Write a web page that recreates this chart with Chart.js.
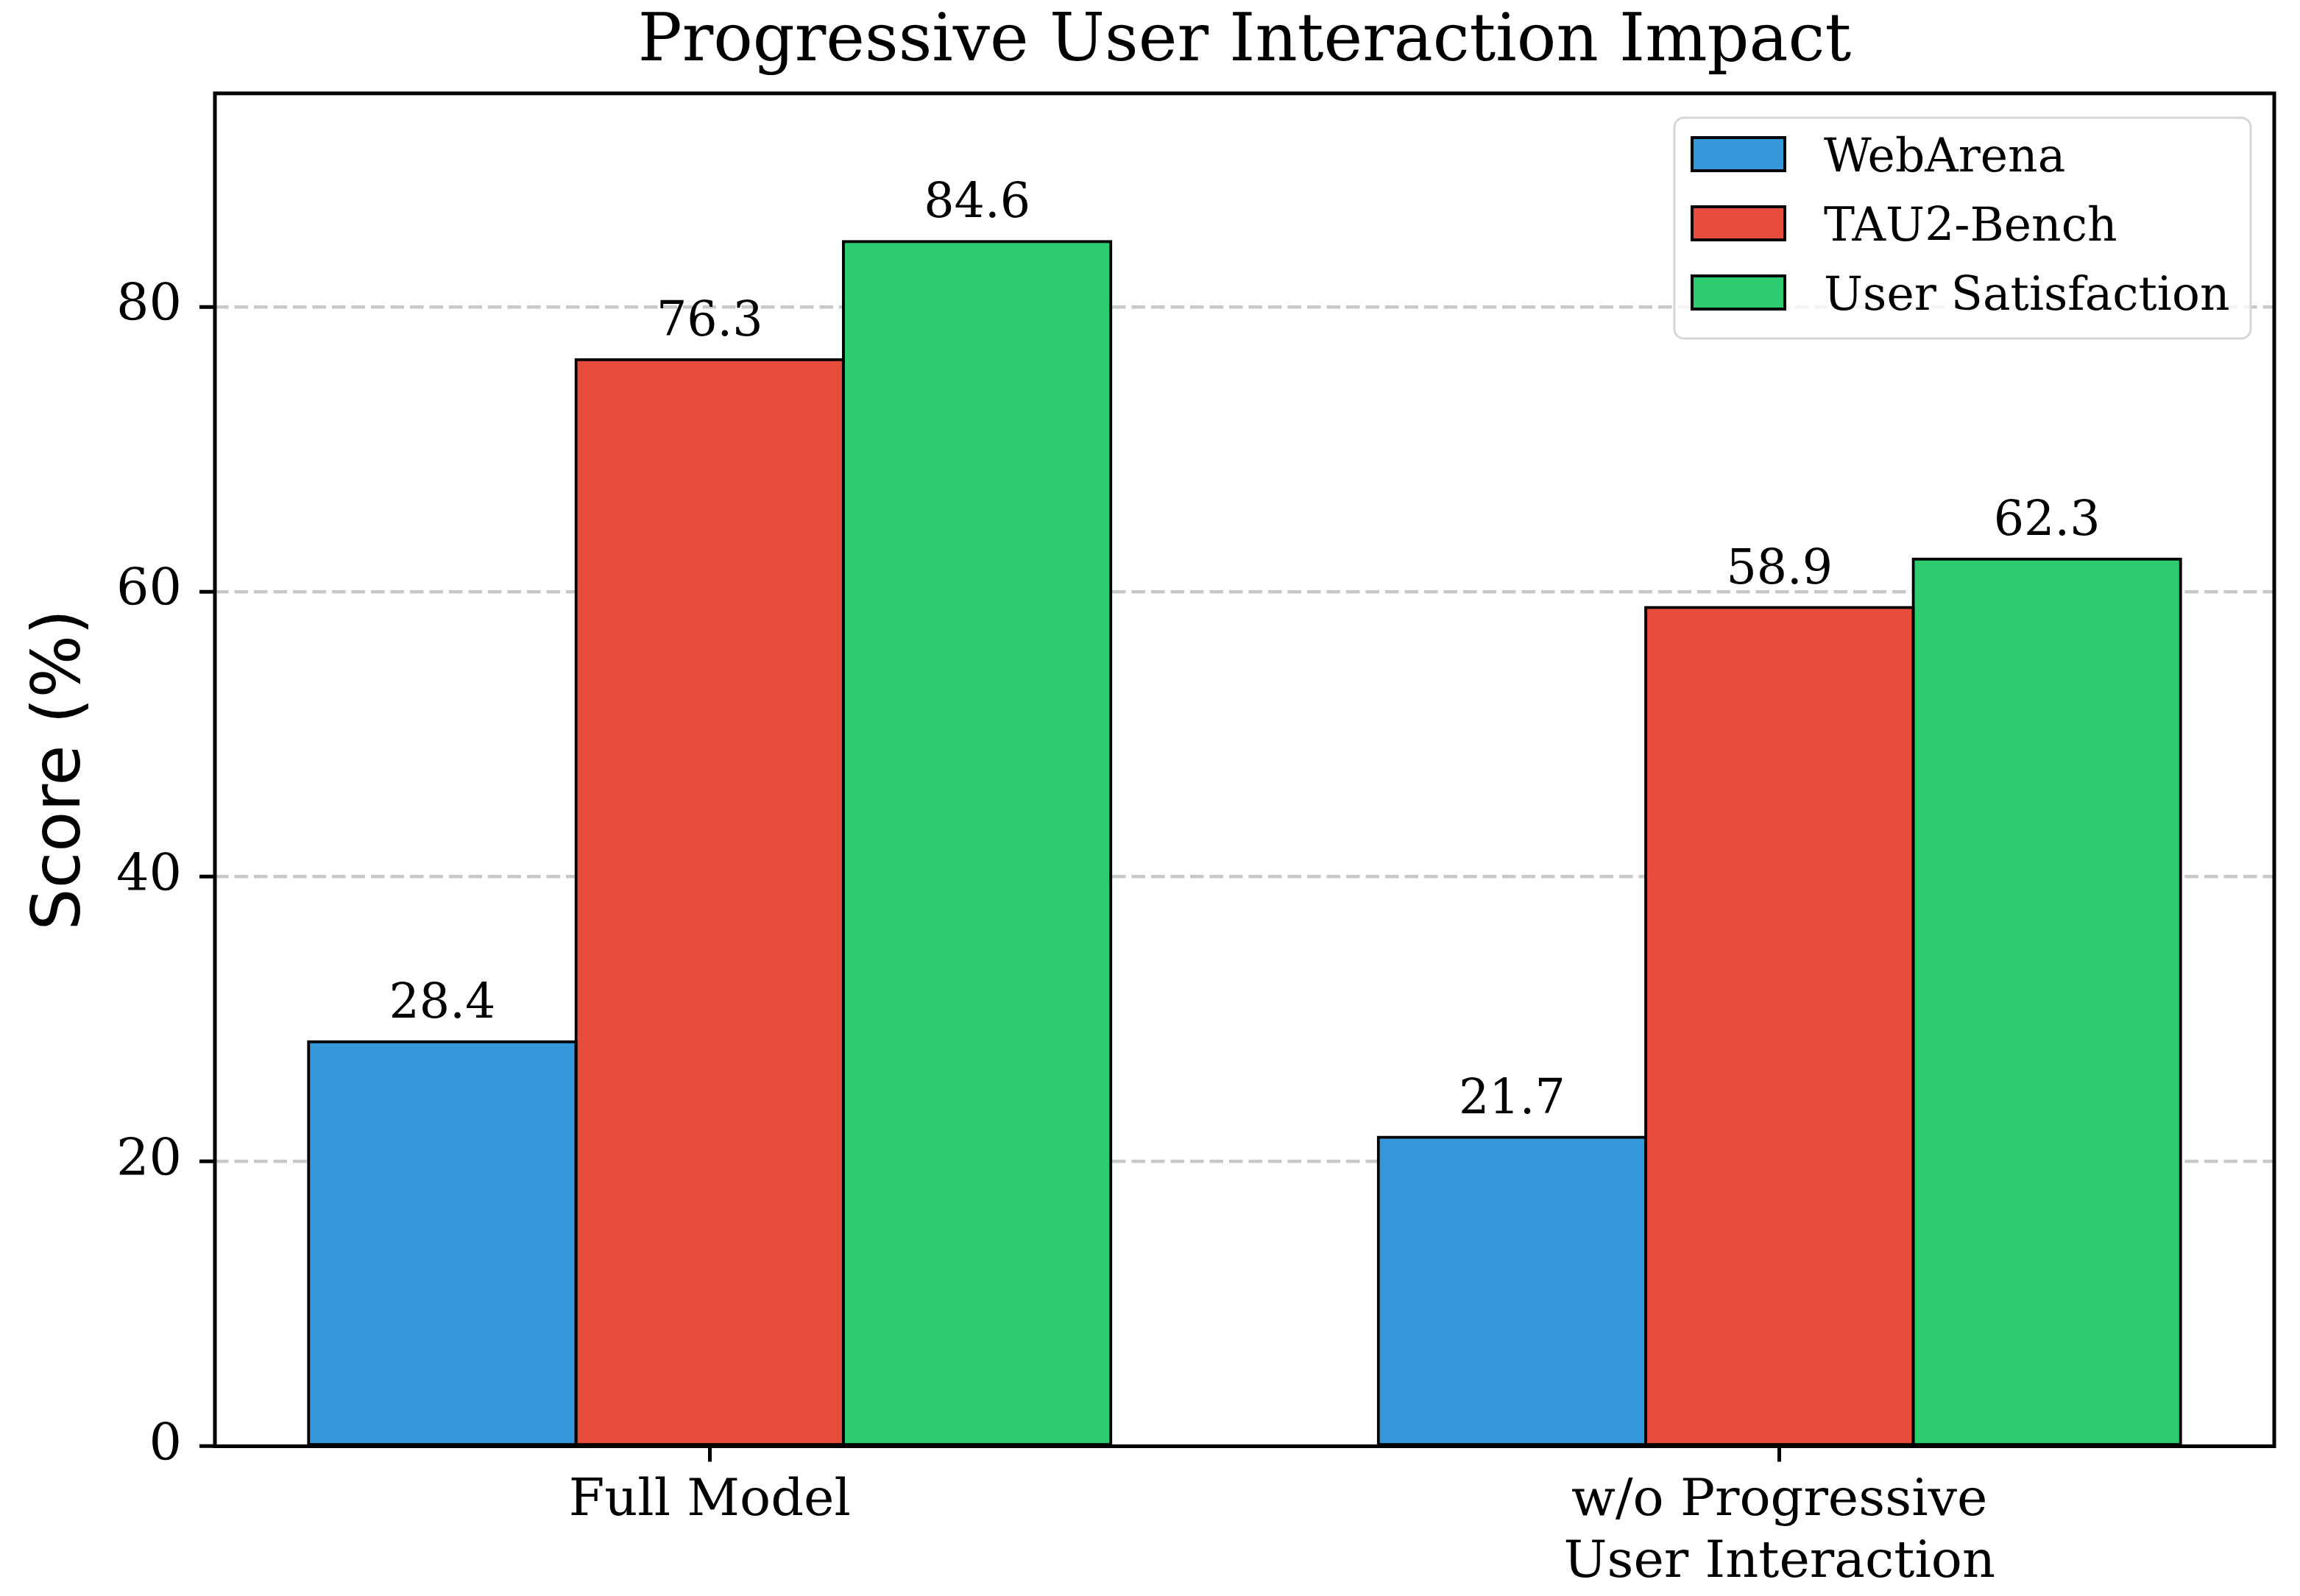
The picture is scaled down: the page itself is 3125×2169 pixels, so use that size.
<!DOCTYPE html>
<html>
<head>
<meta charset="utf-8">
<script src="https://cdn.jsdelivr.net/npm/chart.js@4.4.1/dist/chart.umd.min.js"></script>
<style>
  html, body { margin: 0; padding: 0; background: #fff; }
  #wrap { width: 3125px; height: 2169px; }
</style>
</head>
<body>
<div id="wrap"><canvas id="chart"></canvas></div>
<script>
// data
const categories = ['Full Model', ['w/o Progressive', 'User Interaction']];
const xPositions = [0, 1];
const webArena = [28.4, 21.7];
const tau2Bench = [76.3, 58.9];
const userSatisfaction = [84.6, 62.3];
const yTicks = [0, 20, 40, 60, 80];

const seriesNames = ['WebArena', 'TAU2-Bench', 'User Satisfaction'];
const seriesColors = ['#3498db', '#e74c3c', '#2ecc71'];
const seriesValues = [webArena, tau2Bench, userSatisfaction];

const SERIF = "'DejaVu Serif', serif";
const SANS = "'DejaVu Sans', sans-serif";

const datasets = seriesNames.map((name, i) => ({
    label: name,
    data: xPositions.map((x, j) => ({ x: x, y: seriesValues[i][j] })),
    backgroundColor: seriesColors[i],
    borderColor: '#000',
    borderWidth: 4,
    borderSkipped: false,
    inflateAmount: 2,
    categoryPercentage: 0.75,
    barPercentage: 1.0
}));

// box round the plot, drawn over the bars like matplotlib spines
const framePlugin = {
    id: 'frame',
    afterDatasetsDraw(chart) {
        const { ctx, chartArea: a } = chart;
        ctx.save();
        ctx.strokeStyle = '#000';
        ctx.lineWidth = 5;
        ctx.strokeRect(a.left, a.top, a.right - a.left, a.bottom - a.top);
        ctx.restore();
    }
};

// numbers above the bars
const valueLabels = {
    id: 'valueLabels',
    afterDatasetsDraw(chart) {
        const ctx = chart.ctx;
        ctx.save();
        ctx.font = '65px ' + SERIF;
        ctx.fillStyle = '#000';
        ctx.textAlign = 'center';
        ctx.textBaseline = 'alphabetic';
        chart.data.datasets.forEach((ds, i) => {
            chart.getDatasetMeta(i).data.forEach((bar, j) => {
                ctx.fillText(ds.data[j].y.toFixed(1), bar.x, bar.y - 33);
            });
        });
        ctx.restore();
    }
};

// legend inside the plot, upper right
const innerLegend = {
    id: 'innerLegend',
    afterDraw(chart) {
        const ctx = chart.ctx;
        const box = { left: 2275, top: 160, right: 3058, bottom: 460, r: 13 };
        ctx.save();
        ctx.beginPath();
        ctx.moveTo(box.left + box.r, box.top);
        ctx.arcTo(box.right, box.top, box.right, box.bottom, box.r);
        ctx.arcTo(box.right, box.bottom, box.left, box.bottom, box.r);
        ctx.arcTo(box.left, box.bottom, box.left, box.top, box.r);
        ctx.arcTo(box.left, box.top, box.right, box.top, box.r);
        ctx.closePath();
        ctx.fillStyle = 'rgba(255,255,255,0.8)';
        ctx.fill();
        ctx.lineWidth = 3;
        ctx.strokeStyle = '#d6d6d6';
        ctx.stroke();

        ctx.font = '63px ' + SERIF;
        ctx.textAlign = 'left';
        ctx.textBaseline = 'alphabetic';
        chart.data.datasets.forEach((ds, i) => {
            const cy = 209.5 + i * 94;
            ctx.fillStyle = ds.backgroundColor;
            ctx.fillRect(2299, cy - 22.5, 126, 45);
            ctx.lineWidth = 4;
            ctx.strokeStyle = '#000';
            ctx.strokeRect(2299, cy - 22.5, 126, 45);
            ctx.fillStyle = '#000';
            ctx.fillText(ds.label, 2478, cy + 23);
        });
        ctx.restore();
    }
};

const ctx = document.getElementById('chart').getContext('2d');
new Chart(ctx, {
    type: 'bar',
    data: { datasets: datasets },
    options: {
        responsive: true,
        maintainAspectRatio: false,
        devicePixelRatio: 1,
        animation: false,
        layout: { padding: { left: 0, right: 35, top: 0, bottom: 0 } },
        plugins: {
            legend: { display: false },
            tooltip: { enabled: false },
            title: {
                display: true,
                text: 'Progressive User Interaction Impact',
                fullSize: false,
                color: '#000',
                font: { family: SERIF, size: 89, weight: 'normal', lineHeight: 1.2 },
                padding: { top: 5, bottom: 15.1 }
            }
        },
        scales: {
            x: {
                type: 'linear',
                min: -0.4625,
                max: 1.4625,
                offset: false,
                afterFit(scale) { scale.height = 203.5; },
                afterBuildTicks(scale) { scale.ticks = xPositions.map(v => ({ value: v })); },
                grid: { display: true, drawOnChartArea: false, offset: false, tickLength: 21, tickColor: '#000', tickWidth: 5 },
                border: { display: false },
                ticks: {
                    color: '#000',
                    padding: 12,
                    maxRotation: 0,
                    autoSkip: false,
                    font: { family: SERIF, size: 70, lineHeight: 1.2 },
                    callback: (value, index) => categories[index]
                }
            },
            y: {
                min: 0,
                max: 95,
                afterFit(scale) { scale.width = 292; },
                afterBuildTicks(scale) { scale.ticks = yTicks.map(v => ({ value: v })); },
                grid: { color: '#c8c8c8', lineWidth: 4.5, tickLength: 21, tickColor: '#000', tickWidth: 5 },
                border: { display: false, dash: [18.5, 8] },
                ticks: {
                    color: '#000',
                    padding: 24,
                    font: { family: SERIF, size: 70 }
                },
                title: {
                    display: true,
                    text: 'Score (%)',
                    color: '#000',
                    font: { family: SANS, size: 90, lineHeight: 1.2 },
                    padding: { top: 31, bottom: 0 }
                }
            }
        }
    },
    plugins: [framePlugin, valueLabels, innerLegend]
});
</script>
</body>
</html>
